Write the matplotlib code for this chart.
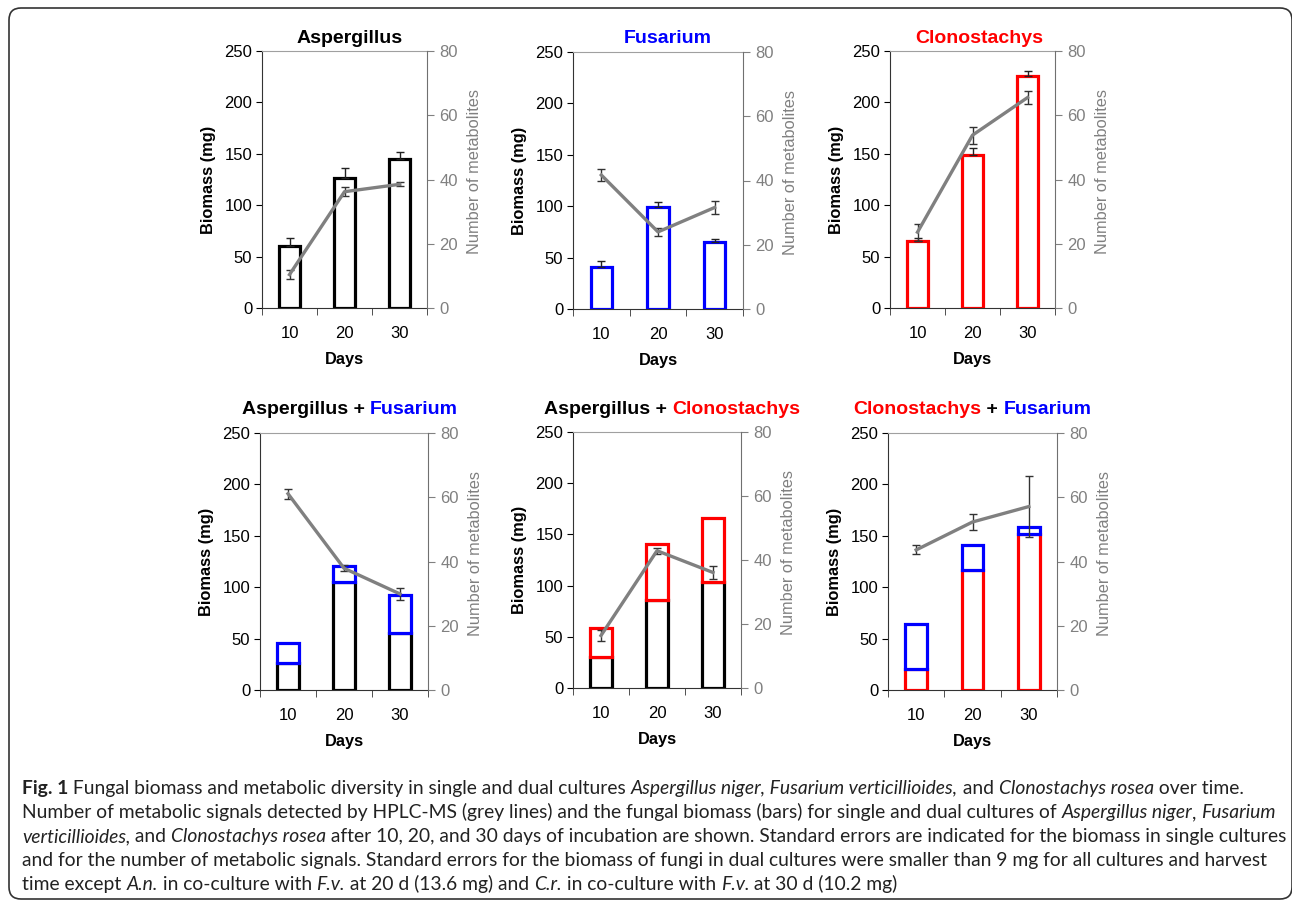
import numpy as np
import matplotlib
matplotlib.use('Agg')
import matplotlib.pyplot as plt
import matplotlib.transforms as mtransforms
from matplotlib.patches import FancyBboxPatch

plt.rcParams['font.family'] = ['Liberation Sans', 'DejaVu Sans']

days = ['10', '20', '30']

# single cultures: biomass (mg) with SE, and number of metabolites with SE
asp_bio = [60, 126, 145]
asp_bio_se = [8, 10, 7]
fus_bio = [41, 99, 65]
fus_bio_se = [6, 5, 3.5]
clo_bio = [65, 149, 226]
clo_bio_se = [3, 7, 5]

asp_met = [10.4, 36.2, 38.5]
asp_met_se = [1.4, 1.4, 0.6]
fus_met = [41.7, 24.0, 31.6]
fus_met_se = [1.8, 1.3, 2.1]
clo_met = [23.6, 53.8, 65.5]
clo_met_se = [2.6, 2.6, 2.0]

# dual cultures: biomass of each partner (stacked), metabolites
af_asp = [26, 105, 55]
af_fus = [20, 16, 37.5]
af_met = [61.1, 37.9, 29.9]
af_met_se = [1.6, 0.9, 2.0]

ac_asp = [30, 86, 104]
ac_clo = [29, 55, 62]
ac_met = [16.4, 42.9, 36.1]
ac_met_se = [1.6, 1.0, 2.1]

cf_clo = [20.5, 117, 152]
cf_fus = [43.5, 24, 7]
cf_met = [43.6, 52.3, 57.1]
cf_met_se = [1.4, 2.4, 9.6]

BLACK, BLUE, RED, GREY = '#000000', '#0000ff', '#ff0000', '#808080'

W, H = 1292, 902
fig = plt.figure(figsize=(W / 100, H / 100), dpi=100)
renderer = fig.canvas.get_renderer()


def add_ax(l, r, t, b):
    return fig.add_axes([l / W, 1 - b / H, (r - l) / W, (b - t) / H])


def seg_width(s, **kw):
    t1 = fig.text(0, 0, '|' + s + '|', **kw)
    t2 = fig.text(0, 0, '||', **kw)
    w = t1.get_window_extent(renderer).width - t2.get_window_extent(renderer).width
    t1.remove()
    t2.remove()
    return w


def draw_segments(parts, x0, y, align='left'):
    # parts: list of (text, kwargs); x0, y in pixels from top-left
    widths = [seg_width(s, **kw) for s, kw in parts]
    x = x0 - sum(widths) / 2 if align == 'center' else x0
    for (s, kw), w in zip(parts, widths):
        fig.text(x / W, 1 - y / H, s, ha='left', va='baseline', **kw)
        x += w


def panel(box, stacks, met, met_se, title_parts, title_y, title_dx=0, bio_se=None):
    ax = add_ax(*box)
    x = np.arange(1, 4)
    bottom = np.zeros(3)
    for vals, col in stacks:
        ax.bar(x, vals, 0.38, bottom=bottom, facecolor='white', edgecolor=col,
               linewidth=2.3, zorder=2)
        bottom = bottom + np.array(vals)
    if bio_se is not None:
        ax.errorbar(x, bottom, yerr=[np.zeros(3), bio_se], fmt='none', ecolor='#222222',
                    elinewidth=1, capsize=3, capthick=1, zorder=3)
    ax.set_xlim(0.5, 3.5)
    ax.set_ylim(0, 250)
    ax.set_yticks(range(0, 251, 50))
    ax.set_xticks(x, days)
    ax.set_xticks([0.5, 1.5, 2.5, 3.5], minor=True)
    ax.tick_params(axis='x', which='major', length=0, pad=13, labelsize=12)
    ax.tick_params(axis='x', which='minor', length=5, direction='out', color='#333333')
    ax.tick_params(axis='y', length=4, direction='out', labelsize=12, pad=3)
    ax.set_ylabel('Biomass (mg)', fontsize=11.8, fontweight='bold', labelpad=6)
    ax.set_xlabel('Days', fontsize=11.8, fontweight='bold', labelpad=8)
    ax.spines['top'].set_color('#a0a0a0')
    ax.spines['right'].set_visible(False)
    ax.spines['left'].set_color('#333333')
    ax.spines['bottom'].set_color('#333333')

    ax2 = ax.twinx()
    ax2.errorbar(x, met, yerr=met_se, color=GREY, lw=2.4, ecolor='#333333',
                 elinewidth=1, capsize=3, capthick=1)
    ax2.set_ylim(0, 80)
    ax2.set_yticks(range(0, 81, 20))
    ax2.tick_params(axis='y', length=5, direction='out', colors=GREY, labelsize=12, pad=4)
    ax2.set_ylabel('Number of metabolites', color=GREY, fontsize=11.8, labelpad=6)
    ax2.yaxis.set_label_coords(1.0 + 40 / (box[1] - box[0]), 0.53)
    for sp in ['top', 'left', 'bottom']:
        ax2.spines[sp].set_visible(False)
    ax2.spines['right'].set_color('#707070')

    cx = (box[0] + box[1]) / 2 + title_dx
    parts = [(s, dict(color=c, fontsize=14, fontweight='bold')) for s, c in title_parts]
    draw_segments(parts, cx, title_y, align='center')
    return ax


panel((262, 427, 51, 308), [(asp_bio, BLACK)], asp_met, asp_met_se,
      [('Aspergillus', BLACK)], 43, 5, asp_bio_se)
panel((573, 743, 52, 309), [(fus_bio, BLUE)], fus_met, fus_met_se,
      [('Fusarium', BLUE)], 43, 10, fus_bio_se)
panel((890, 1055, 51, 308), [(clo_bio, RED)], clo_met, clo_met_se,
      [('Clonostachys', RED)], 43, 7, clo_bio_se)
panel((260, 428, 433, 690), [(af_asp, BLACK), (af_fus, BLUE)], af_met, af_met_se,
      [('Aspergillus + ', BLACK), ('Fusarium', BLUE)], 414, 6)
panel((573, 741, 432, 688), [(ac_asp, BLACK), (ac_clo, RED)], ac_met, ac_met_se,
      [('Aspergillus + ', BLACK), ('Clonostachys', RED)], 414, 15)
panel((888, 1057, 433, 690), [(cf_clo, RED), (cf_fus, BLUE)], cf_met, cf_met_se,
      [('Clonostachys', RED), (' + ', BLACK), ('Fusarium', BLUE)], 414, 0)

# caption
cap_font = ['Lato', 'DejaVu Sans']
n = dict(family=cap_font, color='#222222')
it = dict(family=cap_font, style='italic', color='#222222')
bd = dict(family=cap_font, weight='bold', color='#222222')

caption_lines = [
    [('Fig. 1', bd), (' Fungal biomass and metabolic diversity in single and dual cultures ', n),
     ('Aspergillus niger, Fusarium verticillioides,', it), (' and ', n),
     ('Clonostachys rosea', it), (' over time.', n)],
    [('Number of metabolic signals detected by HPLC-MS (grey lines) and the fungal biomass '
      '(bars) for single and dual cultures of ', n), ('Aspergillus niger', it), (', ', n),
     ('Fusarium', it)],
    [('verticillioides,', it), (' and ', n), ('Clonostachys rosea', it),
     (' after 10, 20, and 30 days of incubation are shown. Standard errors are indicated '
      'for the biomass in single cultures', n)],
    [('and for the number of metabolic signals. Standard errors for the biomass of fungi in '
      'dual cultures were smaller than 9 mg for all cultures and harvest', n)],
    [('time except ', n), ('A.n.', it), (' in co-culture with ', n), ('F.v.', it),
     (' at 20 d (13.6 mg) and ', n), ('C.r.', it), (' in co-culture with ', n), ('F.v.', it),
     (' at 30 d (10.2 mg)', n)],
]

base = 12.0
w2 = sum(seg_width(s, fontsize=base, **kw) for s, kw in caption_lines[1])
cap_size = base * 1250 / w2
for i, line in enumerate(caption_lines):
    parts = [(s, dict(fontsize=cap_size, **kw)) for s, kw in line]
    draw_segments(parts, 22, 794 + 24 * i)

frame = FancyBboxPatch((9, H - 899), 1283, 891, boxstyle='round,pad=0,rounding_size=12',
                       transform=mtransforms.IdentityTransform(), facecolor='none',
                       edgecolor='#333333', linewidth=1.2)
fig.patches.append(frame)

fig.savefig('out.png', dpi=100)
